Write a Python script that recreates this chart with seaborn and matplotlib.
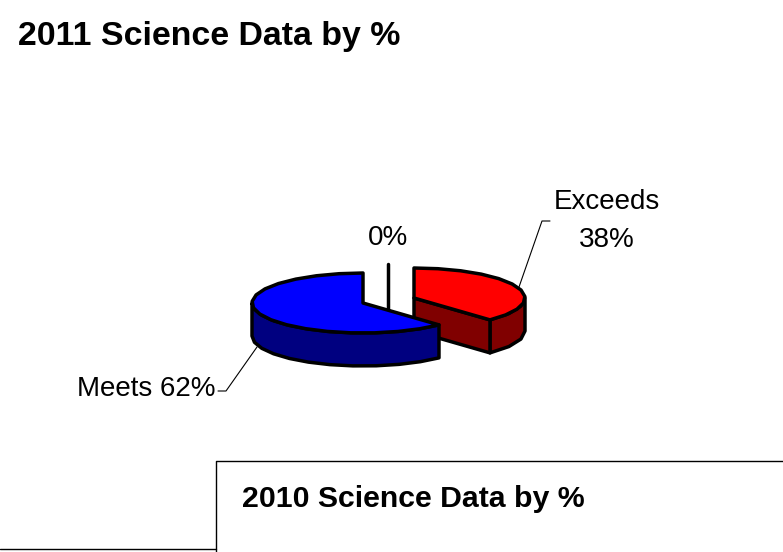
import numpy as np
import matplotlib
matplotlib.use("Agg")
import matplotlib.pyplot as plt
import seaborn as sns

# data
categories = ["Exceeds", "Below", "Meets"]
shares = [38, 0, 62]
colors_top = ["#ff0000", "#ffffff", "#0000ff"]
colors_side = ["#800000", "#808080", "#000080"]

sns.set_style("white")
plt.rcParams["font.family"] = ["Liberation Sans", "DejaVu Sans"]
plt.rcParams["text.color"] = "black"

# pie shape, all in picture pixels
RX, RY, DEPTH = 111, 30, 33
CENTERS = {"Exceeds": (414, 298), "Below": (388, 294), "Meets": (363, 303)}
DRAW_ORDER = ["Below", "Exceeds", "Meets"]
STEP = 12  # coarse arcs, the original outline is jagged


def arc(cx, cy, a0, a1):
    n = max(2, int(abs(a1 - a0) / STEP) + 1)
    t = np.radians(np.linspace(a0, a1, n))
    return cx + RX * np.cos(t), cy - RY * np.sin(t)


def draw_wedge(ax, name, a0, a1, top, side):
    cx, cy = CENTERS[name]
    edge = dict(edgecolor="black", linewidth=2.5, joinstyle="round")

    if a0 == a1:
        ax.plot([cx, cx], [cy - RY, cy + DEPTH], color="black", lw=2.5, zorder=0)
        return

    # front rim, only the part of the arc facing the viewer
    for lo, hi in [(max(a0, 180), min(a1, 360)), (a0, min(a1, 0))]:
        if lo < hi:
            x, y = arc(cx, cy, lo, hi)
            ax.fill(np.r_[x, x[::-1]], np.r_[y, y[::-1] + DEPTH], facecolor=side, **edge)

    # cut face shows when the wedge ends in the lower right
    if a0 < 0:
        ex, ey = cx + RX * np.cos(np.radians(a0)), cy - RY * np.sin(np.radians(a0))
        ax.fill([cx, ex, ex, cx], [cy, ey, ey + DEPTH, cy + DEPTH], facecolor=side, **edge)

    x, y = arc(cx, cy, a0, a1)
    ax.fill(np.r_[cx, x], np.r_[cy, y], facecolor=top, **edge)


fig = plt.figure(figsize=(7.83, 5.52), dpi=100)
ax = fig.add_axes([0, 0, 1, 1])
ax.set_xlim(0, 783)
ax.set_ylim(552, 0)
ax.axis("off")

# wedges go clockwise from 12 o'clock
start = 90
angles = {}
for name, share in zip(categories, shares):
    stop = start - share / sum(shares) * 360
    angles[name] = (stop, start)
    start = stop
# keep the big wedge in one positive angle range
angles["Meets"] = (angles["Meets"][0] + 360, angles["Meets"][1] + 360)

for name in DRAW_ORDER:
    i = categories.index(name)
    a0, a1 = angles[name]
    draw_wedge(ax, name, a0, a1, colors_top[i], colors_side[i])

# labels and leader lines
ax.text(607, 202, categories[0], fontsize=20, ha="center", va="center")
ax.text(607, 240, f"{shares[0]}%", fontsize=20, ha="center", va="center")
ax.text(388, 238, f"{shares[1]}%", fontsize=20, ha="center", va="center")
ax.text(146, 389, f"{categories[2]} {shares[2]}%", fontsize=20, ha="center", va="center")
ax.plot([519, 542, 550], [287, 221, 221], color="black", lw=0.8)
ax.plot([257, 226, 218], [347, 391, 391], color="black", lw=0.8)

# titles
ax.text(18, 37, "2011 Science Data by %", fontsize=24.4, fontweight="bold", va="center")
ax.text(242, 499, "2010 Science Data by %", fontsize=21.8, fontweight="bold", va="center")

# the next slide's box peeking in at the bottom
ax.plot([783, 216, 216], [461, 461, 552], color="black", lw=1.0)
ax.plot([0, 216], [549, 549], color="black", lw=1.0)

fig.savefig("out.png", dpi=100)
